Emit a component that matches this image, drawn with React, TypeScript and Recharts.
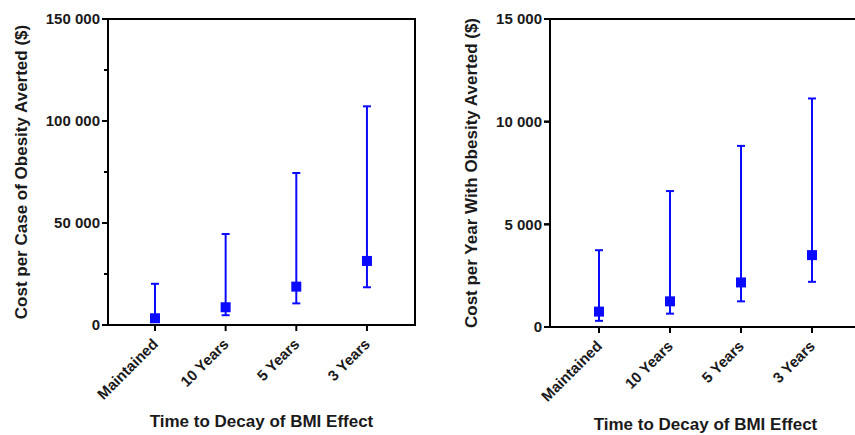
import { ComposedChart, Line, XAxis, YAxis, ErrorBar, ReferenceArea, ReferenceLine, Label } from "recharts"

// Time to decay of BMI effect
const categories = ["Maintained", "10 Years", "5 Years", "3 Years"]

// Cost per case of obesity averted ($): median and range
const caseCost = [3300, 8700, 18800, 31400]
const caseLow = [1500, 4800, 10600, 18500]
const caseHigh = [20200, 44600, 74500, 107200]

// Cost per year with obesity averted ($): median and range
const yearCost = [750, 1250, 2170, 3500]
const yearLow = [300, 650, 1250, 2200]
const yearHigh = [3740, 6620, 8820, 11130]

const caseTicks = [0, 50000, 100000, 150000]
const caseMinorTicks = [25000, 75000, 125000]
const yearTicks = [0, 5000, 10000, 15000]

const BLUE = "#0a0aff"
const FONT = "'Liberation Sans', Arial, Helvetica, sans-serif"

const buildRows = (values: number[], low: number[], high: number[]) =>
  categories.map((name, i) => ({
    x: i,
    name,
    value: values[i],
    err: [values[i] - low[i], high[i] - values[i]],
  }))

const formatTick = (v: number) => String(v).replace(/\B(?=(\d{3})+(?!\d))/g, " ")

const Square = (props: any) => {
  const { cx, cy, index } = props
  if (cx == null || cy == null) return <g key={`sq-${index}`} />
  return <rect key={`sq-${index}`} x={cx - 5} y={cy - 5} width={10} height={10} fill={BLUE} />
}

const CategoryTick = (props: any) => {
  const { x, y, payload } = props
  return (
    <g transform={`translate(${x + 4},${y + 12})`}>
      <text
        x={0}
        y={0}
        textAnchor="end"
        transform="rotate(-45)"
        fontSize={15}
        fontWeight="bold"
        fontFamily={FONT}
        fill="#1a1a1a"
      >
        {categories[payload.value]}
      </text>
    </g>
  )
}

// short horizontal tick drawn outside the left axis
const leftTick = (len: number) => (sp: any) => (
  <line x1={sp.x1 - len} y1={sp.y1} x2={sp.x1} y2={sp.y1} stroke="#000" strokeWidth={2} />
)

type PanelProps = {
  width: number
  yAxisWidth: number
  xAxisHeight: number
  marginRight: number
  titleX: number
  titleBaseline: number
  yTitle: string
  ticks: number[]
  minorTicks: number[]
  values: number[]
  low: number[]
  high: number[]
  xDomain: [number, number]
}

function Panel(p: PanelProps) {
  const rows = buildRows(p.values, p.low, p.high)
  const max = p.ticks[p.ticks.length - 1]
  const tickStyle = { fontSize: 15, fontWeight: "bold", fontFamily: FONT, fill: "#1a1a1a" }

  return (
    <ComposedChart
      width={p.width}
      height={435}
      data={rows}
      margin={{ top: 19, right: p.marginRight, left: 0, bottom: 0 }}
    >
      <XAxis
        dataKey="x"
        type="number"
        domain={p.xDomain}
        ticks={[0, 1, 2, 3]}
        allowDataOverflow
        height={p.xAxisHeight}
        tick={<CategoryTick />}
        tickSize={6}
        interval={0}
        stroke="#000"
        axisLine={{ stroke: "#000", strokeWidth: 2 }}
        tickLine={{ stroke: "#000", strokeWidth: 2 }}
      >
        <Label
          content={(lp: any) => {
            const vb = lp.viewBox
            return (
              <text
                x={vb.x + vb.width / 2}
                y={vb.y + p.titleBaseline}
                textAnchor="middle"
                fontSize={17}
                fontWeight="bold"
                fontFamily={FONT}
                fill="#1a1a1a"
              >
                Time to Decay of BMI Effect
              </text>
            )
          }}
        />
      </XAxis>
      <YAxis
        domain={[0, max]}
        ticks={p.ticks}
        allowDataOverflow
        width={p.yAxisWidth}
        tickFormatter={formatTick}
        tick={tickStyle}
        tickSize={6}
        tickMargin={2}
        stroke="#000"
        axisLine={{ stroke: "#000", strokeWidth: 2 }}
        tickLine={{ stroke: "#000", strokeWidth: 2 }}
      >
        <Label
          content={(lp: any) => {
            const vb = lp.viewBox
            return (
              <text
                transform={`translate(${vb.x + p.titleX},${vb.y + vb.height / 2}) rotate(-90)`}
                x={0}
                y={0}
                dy="0.36em"
                textAnchor="middle"
                fontSize={17}
                fontWeight="bold"
                fontFamily={FONT}
                fill="#1a1a1a"
              >
                {p.yTitle}
              </text>
            )
          }}
        />
      </YAxis>
      <ReferenceArea
        x1={p.xDomain[0]}
        x2={p.xDomain[1]}
        y1={0}
        y2={max}
        fill="none"
        fillOpacity={0}
        stroke="#000"
        strokeWidth={2}
        ifOverflow="visible"
      />
      {p.ticks.map((t) => (
        <ReferenceLine key={`major-${t}`} y={t} ifOverflow="visible" shape={leftTick(6)} />
      ))}
      {p.minorTicks.map((t) => (
        <ReferenceLine key={`minor-${t}`} y={t} ifOverflow="visible" shape={leftTick(4)} />
      ))}
      <Line
        dataKey="value"
        stroke="none"
        isAnimationActive={false}
        dot={Square}
        activeDot={false}
      >
        <ErrorBar dataKey="err" direction="y" width={4} strokeWidth={2} stroke={BLUE} isAnimationActive={false} />
      </Line>
    </ComposedChart>
  )
}

export default function App() {
  return (
    <div
      style={{
        position: "absolute",
        left: 0,
        top: 0,
        width: 855,
        height: 435,
        overflow: "hidden",
        display: "flex",
        background: "#fff",
      }}
    >
      <div style={{ width: 430, flex: "none" }}>
        <Panel
          width={430}
          yAxisWidth={108}
          xAxisHeight={110}
          marginRight={15}
          titleX={21}
          titleBaseline={102}
          yTitle="Cost per Case of Obesity Averted ($)"
          ticks={caseTicks}
          minorTicks={caseMinorTicks}
          values={caseCost}
          low={caseLow}
          high={caseHigh}
          xDomain={[-0.665, 3.68]}
        />
      </div>
      <div style={{ width: 441, flex: "none" }}>
        <Panel
          width={441}
          yAxisWidth={120}
          xAxisHeight={108}
          marginRight={10}
          titleX={41}
          titleBaseline={103}
          yTitle="Cost per Year With Obesity Averted ($)"
          ticks={yearTicks}
          minorTicks={[]}
          values={yearCost}
          low={yearLow}
          high={yearHigh}
          xDomain={[-0.69, 3.69]}
        />
      </div>
    </div>
  )
}
